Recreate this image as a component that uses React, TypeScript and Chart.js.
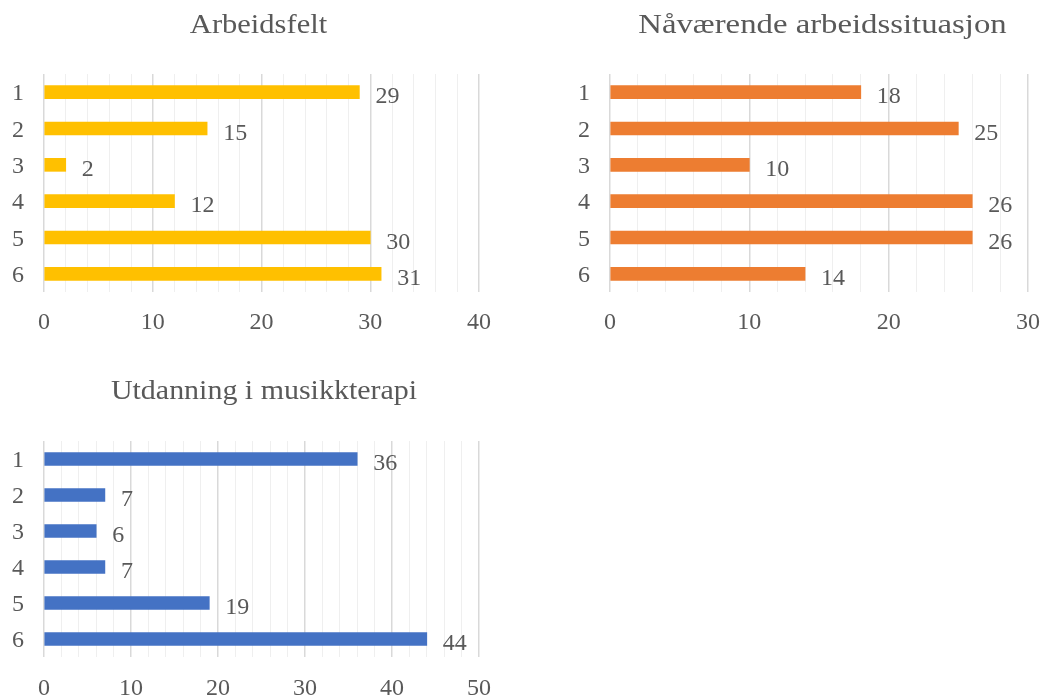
import React, { useEffect, useRef } from 'react';
import { Chart, registerables } from 'chart.js';

Chart.register(...registerables);

const categories = ['1', '2', '3', '4', '5', '6'];
const arbeidsfeltValues = [29, 15, 2, 12, 30, 31];
const naavaerendeValues = [18, 25, 10, 26, 26, 14];
const utdanningValues = [36, 7, 6, 7, 19, 44];
const titles = ['Arbeidsfelt', 'Nåværende arbeidssituasjon', 'Utdanning i musikkterapi'];
const axisMax = [40, 30, 50];
const majorStep = 10;
const minorStep = 2;
const colors = ['#FFC000', '#ED7D31', '#4472C4'];

const FONT = "'Liberation Serif', 'Times New Roman', serif";
const TEXT = '#595959';

const valueLabels = {
  id: 'valueLabels',
  afterDatasetsDraw(chart: any) {
    const ctx = chart.ctx;
    ctx.save();
    ctx.font = `24px ${FONT}`;
    ctx.fillStyle = TEXT;
    ctx.textAlign = 'left';
    ctx.textBaseline = 'middle';
    chart.data.datasets.forEach((ds: any, i: number) => {
      chart.getDatasetMeta(i).data.forEach((bar: any, j: number) => {
        ctx.fillText(String(ds.data[j]), bar.x + 16, bar.y + 5);
      });
    });
    ctx.restore();
  },
};

// Title drawn centred over the plot area, widened like the original.
const panelTitle = {
  id: 'panelTitle',
  afterDraw(chart: any, _args: any, opts: any) {
    const ctx = chart.ctx;
    const area = chart.chartArea;
    ctx.save();
    ctx.font = `28px ${FONT}`;
    ctx.fillStyle = TEXT;
    ctx.textAlign = 'center';
    ctx.textBaseline = 'alphabetic';
    ctx.translate((area.left + area.right) / 2 + (opts.shift || 0), opts.baseline);
    ctx.scale(opts.stretch || 1, 1);
    ctx.fillText(opts.text, 0, 0);
    ctx.restore();
  },
};

type PanelProps = {
  values: number[];
  title: string;
  max: number;
  color: string;
  left: number;
  top: number;
  width: number;
  height: number;
  axisWidth: number;
  padRight: number;
  padTop: number;
  xAxisHeight: number;
  tickPad: number;
  titleBaseline: number;
  titleStretch: number;
  titleShift: number;
};

function BarPanel(p: PanelProps) {
  const ref = useRef<HTMLCanvasElement | null>(null);
  useEffect(() => {
    if (!ref.current) return;
    const chart = new Chart(ref.current, {
      type: 'bar',
      data: {
        labels: categories,
        datasets: [
          {
            data: p.values,
            backgroundColor: p.color,
            borderWidth: 0,
            barThickness: 13,
          },
        ],
      },
      options: {
        indexAxis: 'y',
        animation: false,
        responsive: false,
        maintainAspectRatio: false,
        layout: { padding: { left: 0, right: p.padRight, top: p.padTop, bottom: 0 } },
        plugins: {
          legend: { display: false },
          tooltip: { enabled: false },
          title: { display: false },
          panelTitle: {
            text: p.title,
            baseline: p.titleBaseline,
            stretch: p.titleStretch,
            shift: p.titleShift,
          },
        },
        scales: {
          x: {
            min: 0,
            max: p.max,
            afterFit: (s: any) => {
              s.height = p.xAxisHeight;
              s.paddingLeft = 0;
              s.paddingRight = 0;
            },
            ticks: {
              stepSize: minorStep,
              autoSkip: false,
              maxRotation: 0,
              padding: p.tickPad,
              color: TEXT,
              font: { family: FONT, size: 24 },
              callback: (v: any) => (Number(v) % majorStep === 0 ? String(v) : ''),
            },
            grid: {
              drawTicks: false,
              color: (c: any) => (c.tick && c.tick.value % majorStep === 0 ? '#d9d9d9' : '#efefef'),
              lineWidth: (c: any) => (c.tick && c.tick.value % majorStep === 0 ? 1.5 : 1),
            },
            border: { display: false },
          },
          y: {
            afterFit: (s: any) => {
              s.width = p.axisWidth;
              s.paddingTop = 0;
              s.paddingBottom = 0;
            },
            ticks: {
              padding: 20,
              labelOffset: 2,
              color: TEXT,
              font: { family: FONT, size: 24 },
            },
            grid: { display: false, drawTicks: false },
            border: { display: false },
          },
        },
      },
      plugins: [valueLabels, panelTitle],
    } as any);
    return () => chart.destroy();
  }, []);
  return (
    <canvas
      ref={ref}
      width={p.width}
      height={p.height}
      style={{ position: 'absolute', left: p.left, top: p.top, width: p.width, height: p.height }}
    />
  );
}

export default function App() {
  return (
    <div style={{ position: 'fixed', left: 0, top: 0, width: 1042, height: 697, background: '#ffffff', overflow: 'hidden' }}>
      <BarPanel
        values={arbeidsfeltValues}
        title={titles[0]}
        max={axisMax[0]}
        color={colors[0]}
        left={0}
        top={0}
        width={500}
        height={342}
        axisWidth={44}
        padRight={21}
        padTop={74}
        xAxisHeight={50}
        tickPad={16}
        titleBaseline={33}
        titleStretch={1.09}
        titleShift={-3}
      />
      <BarPanel
        values={naavaerendeValues}
        title={titles[1]}
        max={axisMax[1]}
        color={colors[1]}
        left={560}
        top={0}
        width={482}
        height={342}
        axisWidth={50}
        padRight={14}
        padTop={74}
        xAxisHeight={50}
        tickPad={16}
        titleBaseline={33}
        titleStretch={1.17}
        titleShift={3.5}
      />
      <BarPanel
        values={utdanningValues}
        title={titles[2]}
        max={axisMax[2]}
        color={colors[2]}
        left={0}
        top={365}
        width={500}
        height={332}
        axisWidth={44}
        padRight={21}
        padTop={76}
        xAxisHeight={40}
        tickPad={17}
        titleBaseline={34}
        titleStretch={1.07}
        titleShift={2.5}
      />
    </div>
  );
}
